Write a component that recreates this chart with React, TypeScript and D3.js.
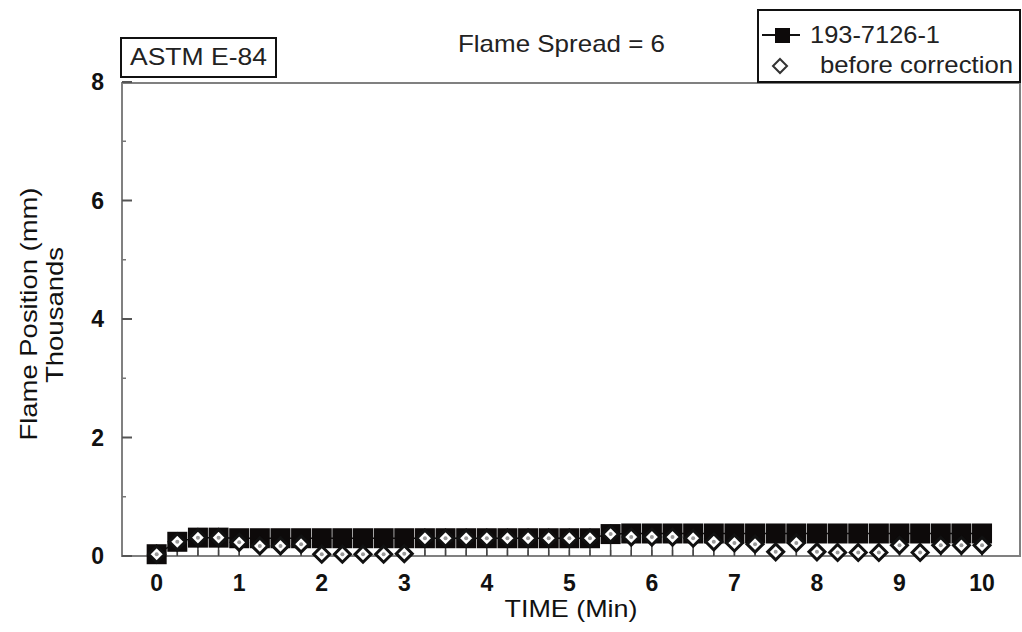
import React from 'react'
import * as d3 from 'd3'

// time in minutes, every 15 s
const times = [0, 0.25, 0.5, 0.75, 1, 1.25, 1.5, 1.75, 2, 2.25, 2.5, 2.75, 3, 3.25, 3.5, 3.75, 4, 4.25, 4.5, 4.75, 5, 5.25, 5.5, 5.75, 6, 6.25, 6.5, 6.75, 7, 7.25, 7.5, 7.75, 8, 8.25, 8.5, 8.75, 9, 9.25, 9.5, 9.75, 10]

// flame position, thousands of mm
const corrected = [0.03, 0.24, 0.31, 0.31, 0.3, 0.3, 0.3, 0.3, 0.3, 0.3, 0.3, 0.3, 0.3, 0.3, 0.3, 0.3, 0.3, 0.3, 0.3, 0.3, 0.3, 0.3, 0.37, 0.38, 0.38, 0.38, 0.38, 0.38, 0.38, 0.38, 0.38, 0.38, 0.38, 0.38, 0.38, 0.38, 0.38, 0.38, 0.38, 0.38, 0.38]
const beforeCorrection = [0.03, 0.24, 0.31, 0.31, 0.23, 0.17, 0.17, 0.2, 0.03, 0.03, 0.03, 0.03, 0.04, 0.3, 0.3, 0.3, 0.3, 0.3, 0.3, 0.3, 0.3, 0.3, 0.37, 0.32, 0.32, 0.32, 0.3, 0.24, 0.22, 0.2, 0.07, 0.22, 0.07, 0.06, 0.06, 0.06, 0.18, 0.06, 0.18, 0.18, 0.18]

const xTicks = [0, 1, 2, 3, 4, 5, 6, 7, 8, 9, 10]
const yTicks = [0, 2, 4, 6, 8]
const yMinor = [1, 3, 5, 7]

const seriesNames = ['193-7126-1', 'before correction']

const font = '"Liberation Sans", Arial, sans-serif'

const App = () => {
  const left = 122, right = 1020, top = 83, bottom = 556

  const x = d3.scaleLinear().domain([-0.42, 10.46]).range([left, right])
  const y = d3.scaleLinear().domain([0, 8]).range([bottom, 82])

  const sq = 20
  const dm = 8

  const diamond = (cx, cy, r) => `M${cx},${cy - r}L${cx + r},${cy}L${cx},${cy + r}L${cx - r},${cy}Z`

  const line = d3.line().x((d, i) => x(times[i])).y(d => y(d))

  return (
    <svg width={1022} height={632} style={{ position: 'absolute', left: 0, top: 0, background: '#fff' }} fontFamily={font}>
      {/* frame */}
      <rect x={left} y={top} width={right - left} height={bottom - top} fill="none" stroke="#808080" strokeWidth={2} />

      {/* y ticks */}
      {yTicks.map(t => (
        <g key={'y' + t}>
          <line x1={left} x2={left + 10} y1={y(t)} y2={y(t)} stroke="#555" strokeWidth={2} />
          <text x={104} y={y(t)} dy="0.36em" textAnchor="end" fontSize={23} fontWeight="bold" fill="#111">{t}</text>
        </g>
      ))}
      {yMinor.map(t => (
        <line key={'ym' + t} x1={left} x2={left + 4} y1={y(t)} y2={y(t)} stroke="#777" strokeWidth={1.5} />
      ))}

      {/* x ticks at each reading */}
      {times.map(t => (
        <line key={'xt' + t} x1={x(t)} x2={x(t)} y1={bottom} y2={bottom - 6} stroke="#777" strokeWidth={1.5} />
      ))}
      {xTicks.map(t => (
        <text key={'xl' + t} x={x(t)} y={591} textAnchor="middle" fontSize={23} fontWeight="bold" fill="#111">{t}</text>
      ))}

      {/* axis titles */}
      <text x={571} y={617} textAnchor="middle" fontSize={24} fill="#111" textLength={133} lengthAdjust="spacingAndGlyphs">TIME (Min)</text>
      <text transform={`translate(37,314) rotate(-90)`} textAnchor="middle" fontSize={24} fill="#111" textLength={253} lengthAdjust="spacingAndGlyphs">Flame Position (mm)</text>
      <text transform={`translate(63,315) rotate(-90)`} textAnchor="middle" fontSize={24} fill="#111" textLength={136} lengthAdjust="spacingAndGlyphs">Thousands</text>

      {/* stalks from the lower reading to the axis */}
      {times.map((t, i) => (
        <line key={'st' + t} x1={x(t)} x2={x(t)} y1={y(Math.min(corrected[i], beforeCorrection[i]))} y2={bottom} stroke="#444" strokeWidth={1.5} />
      ))}

      {/* corrected series */}
      <path d={line(corrected)} fill="none" stroke="#111" strokeWidth={1.5} />
      {corrected.map((v, i) => (
        <rect key={'s' + i} x={x(times[i]) - sq / 2} y={y(v) - sq / 2} width={sq} height={sq} fill="#0d0a0a" />
      ))}

      {/* before correction */}
      {beforeCorrection.map((v, i) => (
        <g key={'d' + i}>
          <path d={diamond(x(times[i]), y(v), dm)} fill="#fff" stroke="#111" strokeWidth={3} />
          <circle cx={x(times[i])} cy={y(v)} r={2} fill="#999" />
        </g>
      ))}

      {/* title */}
      <text x={458} y={52} fontSize={24} fill="#222" textLength={207} lengthAdjust="spacingAndGlyphs">Flame Spread = 6</text>

      {/* ASTM box */}
      <rect x={121} y={38} width={155} height={39} fill="#fff" stroke="#111" strokeWidth={2} />
      <text x={130} y={65} fontSize={24} fill="#222" textLength={137} lengthAdjust="spacingAndGlyphs">ASTM E-84</text>

      {/* legend */}
      <rect x={758} y={10} width={262} height={72} fill="#fff" stroke="#111" strokeWidth={2} />
      <line x1={762} x2={800} y1={35} y2={35} stroke="#111" strokeWidth={2} />
      <rect x={775} y={28} width={15} height={15} fill="#0d0a0a" />
      <text x={810} y={43} fontSize={24} fill="#222" textLength={130} lengthAdjust="spacingAndGlyphs">{seriesNames[0]}</text>
      <path d={diamond(780, 66, 7)} fill="#fff" stroke="#333" strokeWidth={2} />
      <text x={820} y={73} fontSize={24} fill="#222" textLength={193} lengthAdjust="spacingAndGlyphs">{seriesNames[1]}</text>
    </svg>
  )
}

export default App
